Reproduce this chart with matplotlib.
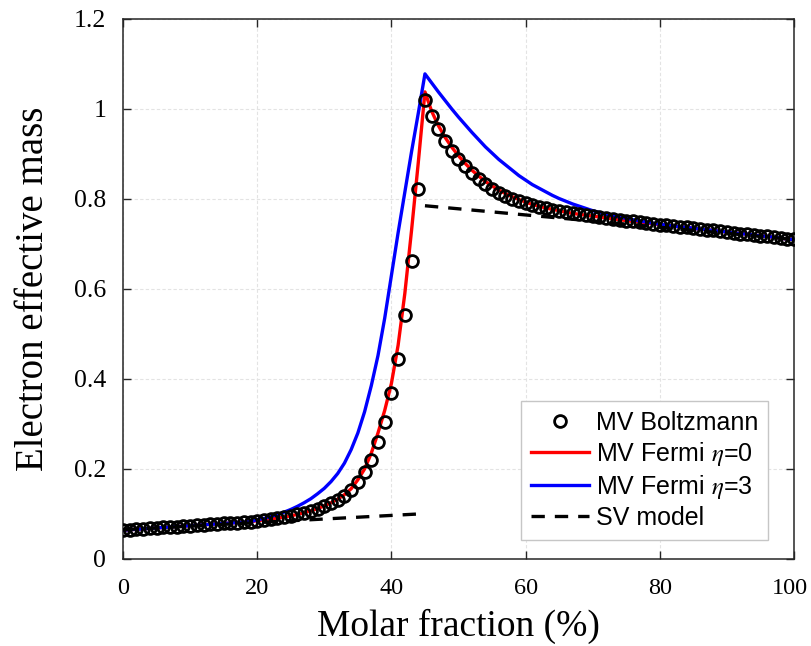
import numpy as np
import matplotlib
matplotlib.use("Agg")
import matplotlib.pyplot as plt
from matplotlib.transforms import ScaledTranslation

# Molar fraction grid (%) shared by every series
molar = np.arange(0, 101)

# MV model, Boltzmann statistics (circles)
m_boltz = [
    0.064, 0.065, 0.066, 0.067, 0.068, 0.069, 0.070, 0.071, 0.072, 0.073,
    0.074, 0.075, 0.076, 0.077, 0.078, 0.079, 0.080, 0.081, 0.082, 0.083,
    0.085, 0.087, 0.089, 0.091, 0.093, 0.096, 0.099, 0.103, 0.107, 0.112,
    0.117, 0.124, 0.131, 0.141, 0.153, 0.171, 0.194, 0.221, 0.259, 0.305,
    0.368, 0.444, 0.542, 0.663, 0.822, 1.020, 0.984, 0.955, 0.929, 0.907,
    0.889, 0.873, 0.857, 0.845, 0.833, 0.822, 0.813, 0.806, 0.800, 0.795,
    0.790, 0.786, 0.782, 0.779, 0.776, 0.773, 0.771, 0.768, 0.766, 0.764,
    0.762, 0.760, 0.758, 0.756, 0.754, 0.752, 0.750, 0.749, 0.747, 0.745,
    0.743, 0.742, 0.740, 0.738, 0.737, 0.735, 0.733, 0.732, 0.730, 0.728,
    0.727, 0.725, 0.723, 0.722, 0.720, 0.718, 0.717, 0.715, 0.713, 0.711,
    0.710,
]

# MV model, Fermi statistics, eta = 0
m_fermi0 = [
    0.064, 0.065, 0.066, 0.067, 0.068, 0.069, 0.070, 0.071, 0.072, 0.073,
    0.074, 0.075, 0.076, 0.077, 0.078, 0.079, 0.080, 0.081, 0.082, 0.083,
    0.085, 0.087, 0.089, 0.091, 0.093, 0.096, 0.099, 0.103, 0.107, 0.112,
    0.118, 0.125, 0.133, 0.143, 0.156, 0.176, 0.200, 0.235, 0.280, 0.330,
    0.390, 0.475, 0.590, 0.730, 0.880, 1.038, 0.995, 0.963, 0.937, 0.915,
    0.896, 0.879, 0.864, 0.851, 0.839, 0.829, 0.820, 0.812, 0.805, 0.799,
    0.793, 0.788, 0.784, 0.780, 0.777, 0.774, 0.771, 0.768, 0.766, 0.764,
    0.762, 0.760, 0.758, 0.756, 0.754, 0.752, 0.750, 0.749, 0.747, 0.745,
    0.743, 0.742, 0.740, 0.738, 0.737, 0.735, 0.733, 0.732, 0.730, 0.728,
    0.727, 0.725, 0.723, 0.722, 0.720, 0.718, 0.717, 0.715, 0.713, 0.711,
    0.710,
]

# MV model, Fermi statistics, eta = 3
m_fermi3 = [
    0.064, 0.065, 0.066, 0.067, 0.068, 0.069, 0.070, 0.071, 0.072, 0.073,
    0.074, 0.075, 0.076, 0.077, 0.078, 0.079, 0.080, 0.081, 0.082, 0.083,
    0.087, 0.090, 0.094, 0.099, 0.104, 0.110, 0.117, 0.125, 0.134, 0.145,
    0.157, 0.172, 0.190, 0.213, 0.243, 0.280, 0.327, 0.385, 0.452, 0.535,
    0.630, 0.725, 0.815, 0.905, 0.990, 1.078, 1.058, 1.038, 1.019, 1.000,
    0.982, 0.965, 0.948, 0.932, 0.916, 0.902, 0.888, 0.876, 0.864, 0.852,
    0.842, 0.832, 0.824, 0.816, 0.808, 0.801, 0.795, 0.789, 0.784, 0.779,
    0.774, 0.770, 0.766, 0.763, 0.760, 0.757, 0.754, 0.751, 0.749, 0.746,
    0.744, 0.742, 0.740, 0.738, 0.737, 0.735, 0.733, 0.732, 0.730, 0.728,
    0.727, 0.725, 0.723, 0.722, 0.720, 0.718, 0.717, 0.715, 0.713, 0.711,
    0.710,
]

# SV model: Gamma branch (low x) and X branch (high x)
sv_x_gamma = [0, 44]
sv_m_gamma = [0.065, 0.100]
sv_x_X = [45, 100]
sv_m_X = [0.785, 0.710]

xticks = [0, 20, 40, 60, 80, 100]
yticks = [0, 0.2, 0.4, 0.6, 0.8, 1.0, 1.2]
ytick_labels = ["0", "0.2", "0.4", "0.6", "0.8", "1", "1.2"]

plt.rcParams["mathtext.fontset"] = "stix"

fig = plt.figure(figsize=(8.11, 6.46), dpi=100)
ax = fig.add_axes([0.1517, 0.1347, 0.8273, 0.8359])

ax.plot(molar, m_boltz, "o", ms=8.5, mfc="none", mec="black", mew=2.0,
        label="MV Boltzmann", zorder=5)
ax.plot(molar, m_fermi0, "-", color="red", lw=2.4, label=r"MV Fermi $\eta$=0", zorder=3)
ax.plot(molar, m_fermi3, "-", color="blue", lw=2.4, label=r"MV Fermi $\eta$=3", zorder=3)
ax.plot(sv_x_gamma, sv_m_gamma, "--", color="black", lw=2.4, dashes=(4, 3),
        label="SV model", zorder=4)
ax.plot(sv_x_X, sv_m_X, "--", color="black", lw=2.4, dashes=(4, 3), zorder=4)

ax.set_xlim(0, 100)
ax.set_ylim(0, 1.2)
ax.set_xticks(xticks)
ax.set_yticks(yticks)
ax.set_yticklabels(ytick_labels)

ax.grid(True, color="#e3e3e3", lw=0.8, ls=(0, (3, 2)))
ax.set_axisbelow(True)
ax.tick_params(direction="in", length=6, width=1, top=True, right=True,
               colors="#262626", labelcolor="black")
for lbl in ax.get_yticklabels():
    lbl.set_family("Liberation Serif")
    lbl.set_fontsize(18.5)
for lbl in ax.get_xticklabels():
    lbl.set_family("Liberation Serif")
    lbl.set_fontsize(17.5)
ax.tick_params(axis="x", pad=14)
ax.tick_params(axis="y", pad=12)
# keep the "100" label inside the figure edge
last = ax.get_xticklabels()[-1]
last.set_transform(last.get_transform() + ScaledTranslation(-4 / 100, 0, fig.dpi_scale_trans))
for sp in ax.spines.values():
    sp.set_color("#262626")
    sp.set_linewidth(1.1)

ax.set_xlabel("Molar fraction (%)", family="Liberation Serif", fontsize=27, labelpad=7)
ax.set_ylabel("Electron effective mass", family="Liberation Serif", fontsize=28, labelpad=16)

leg = ax.legend(loc="lower right", bbox_to_anchor=(0.962, 0.035),
                borderaxespad=0,
                prop={"family": "Liberation Sans", "size": 18},
                numpoints=1, handlelength=2.3, handletextpad=0.3,
                labelspacing=0.2, borderpad=0.4, fancybox=False,
                framealpha=1, edgecolor="#c6c6c6")
leg.get_frame().set_linewidth(1.0)

fig.savefig("out.png", dpi=100)
